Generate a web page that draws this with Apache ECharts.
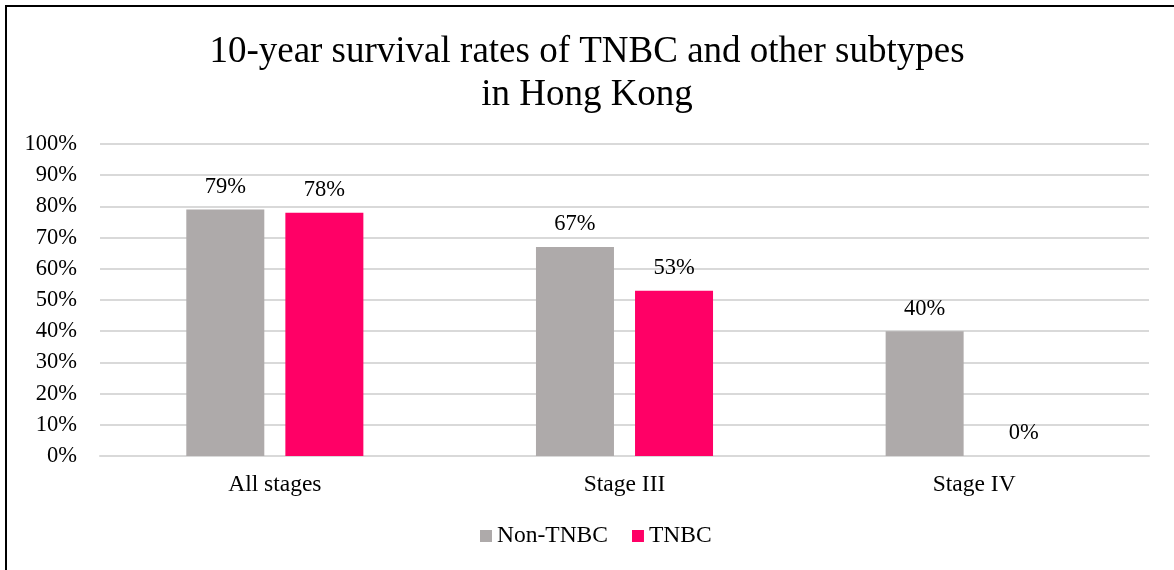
<!DOCTYPE html>
<html>
<head>
<meta charset="utf-8">
<script src="https://cdn.jsdelivr.net/npm/echarts@6/dist/echarts.min.js"></script>
<style>
  html, body { margin: 0; padding: 0; background: #fff; }
  #chart { width: 1174px; height: 570px; }
</style>
</head>
<body>
<div id="chart"></div>
<script>
// Chart data
const categories = ['All stages', 'Stage III', 'Stage IV'];
const nonTnbc = [79, 67, 40];
const tnbc = [78, 53, 0];
const seriesNames = ['Non-TNBC', 'TNBC'];
const titleLines = ['10-year survival rates of TNBC and other subtypes', 'in Hong Kong'];

const serif = '"Liberation Serif", "Times New Roman", serif';
const chart = echarts.init(document.getElementById('chart'));

const labelStyle = {
  show: true,
  position: 'top',
  distance: 11,
  formatter: p => p.value + '%',
  fontFamily: serif,
  fontSize: 22.5,
  color: '#000'
};

chart.setOption({
  backgroundColor: '#fff',
  animation: false,
  title: {
    text: titleLines.join('\n'),
    left: 'center',
    top: 26,
    textStyle: {
      fontFamily: serif,
      fontSize: 37,
      fontWeight: 'normal',
      color: '#000',
      lineHeight: 43
    }
  },
  graphic: [{
    type: 'rect',
    shape: { x: 6, y: 6, width: 1300, height: 700 },
    style: { fill: 'none', stroke: '#000', lineWidth: 2 },
    silent: true,
    z: 100
  }],
  legend: {
    data: seriesNames,
    bottom: 17,
    left: 475,
    itemWidth: 12,
    itemHeight: 12,
    itemGap: 24,
    icon: 'rect',
    textStyle: { fontFamily: serif, fontSize: 23.5, color: '#000' }
  },
  grid: { left: 100, right: 25, top: 144, bottom: 114 },
  xAxis: {
    type: 'category',
    data: categories,
    axisLine: { show: true, lineStyle: { color: '#d9d9d9', width: 2 } },
    axisTick: { show: false },
    axisLabel: { fontFamily: serif, fontSize: 23.5, color: '#000', margin: 17 }
  },
  yAxis: {
    type: 'value',
    min: 0,
    max: 100,
    interval: 10,
    axisLine: { show: false },
    axisTick: { show: false },
    splitLine: { lineStyle: { color: '#d9d9d9', width: 2 } },
    axisLabel: {
      formatter: v => v + '%',
      fontFamily: serif,
      fontSize: 22.5,
      color: '#000',
      margin: 23
    }
  },
  series: [
    {
      name: seriesNames[0],
      type: 'bar',
      data: nonTnbc,
      barWidth: 78,
      barGap: '27%',
      itemStyle: { color: '#AEAAAA' },
      label: labelStyle
    },
    {
      name: seriesNames[1],
      type: 'bar',
      data: tnbc,
      barWidth: 78,
      itemStyle: { color: '#FF0066' },
      label: labelStyle
    }
  ]
});
</script>
</body>
</html>
